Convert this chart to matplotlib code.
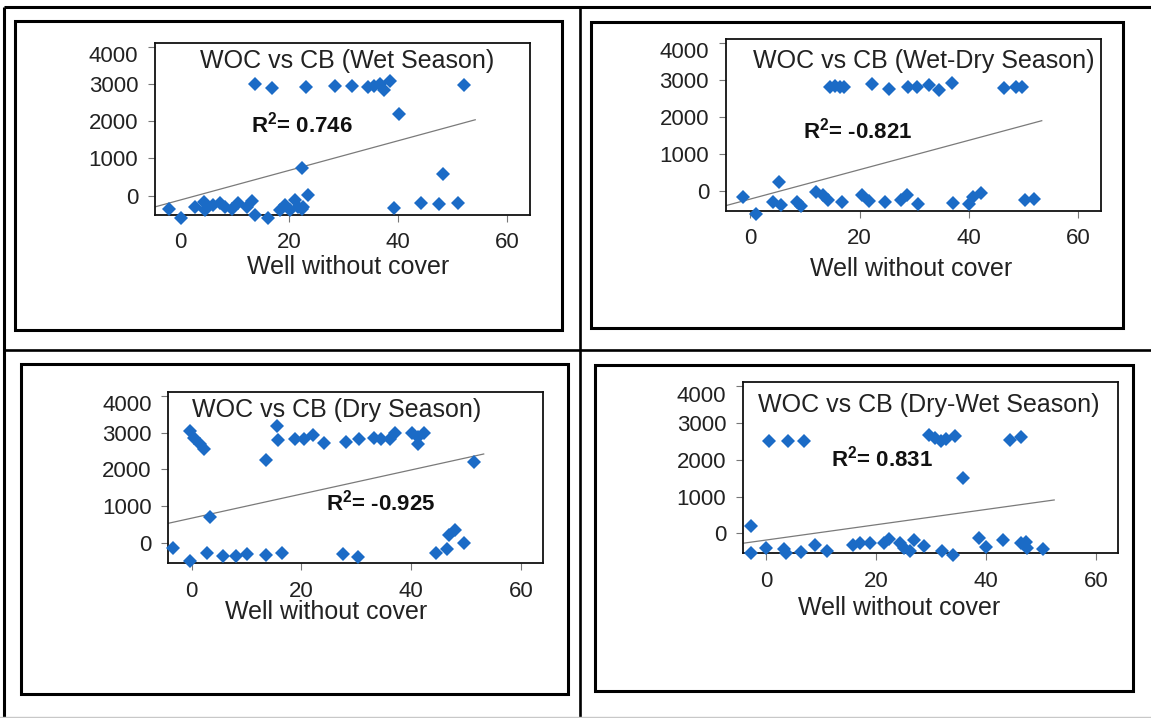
import matplotlib
matplotlib.use("Agg")
import matplotlib.pyplot as plt
from matplotlib import transforms as mtransforms
from matplotlib.patches import Rectangle

plt.rcParams['font.family'] = ['Liberation Sans', 'DejaVu Sans']
plt.rcParams['mathtext.fontset'] = 'custom'
plt.rcParams['mathtext.rm'] = 'Liberation Sans'
plt.rcParams['mathtext.bf'] = 'Liberation Sans:bold'

# -----------------------------
# data
# -----------------------------
wet_x = [13.7, 16.8, 23.1, 28.4, 31.6, 34.5, 35.6, 36.6, 37.4, 38.5, 40.2, 52.1,
         22.3, 48.2,
         -2.0, 0.1, 2.75, 4.3, 4.6, 6.1, 7.3, 8.25, 9.5, 10.7, 12.2, 13.1, 13.7,
         16.2, 18.3, 19.2, 20.2, 21.1, 21.7, 22.6, 23.5, 22.3,
         39.2, 44.1, 47.4, 50.9]
wet_y = [3000, 2880, 2910, 2945, 2945, 2910, 2960, 3010, 2850, 3070, 2185, 2970,
         735, 580,
         -366, -607, -295, -161, -384, -250, -188, -295, -366, -205, -295, -134, -518,
         -607, -384, -250, -384, -116, -295, -295, 19, -370,
         -340, -206, -224, -206]
wet_trend_x = [-4.6, 54.1]
wet_trend_y = [-300, 2040]

wetdry_x = [14.6, 15.5, 16.4, 17.2, 22.3, 25.3, 28.8, 30.5, 32.7, 34.5, 36.9, 46.4, 48.6, 49.6,
            -1.3, 1.0, 4.1, 5.3, 5.6, 8.6, 9.3, 12.1, 13.3, 14.3, 16.8, 20.5, 21.7,
            24.7, 27.5, 28.6, 30.6, 37.1, 40.0, 40.8, 42.1, 50.3, 51.8]
wetdry_y = [2820, 2840, 2820, 2810, 2890, 2750, 2800, 2800, 2865, 2730, 2910, 2795, 2800, 2800,
            -171, -622, -288, 252, -378, -288, -396, -18, -108, -243, -288, -108, -261,
            -288, -243, -108, -351, -315, -351, -153, -45, -243, -216]
wetdry_trend_x = [-4.5, 53.3]
wetdry_trend_y = [-396, 1900]

dry_x = [-0.3, 0.5, 1.5, 2.2, 13.5, 15.6, 15.8, 18.8, 20.5, 22.2, 24.1, 28.1, 30.5,
         33.2, 34.5, 36.1, 37.1, 40.1, 41.2, 41.3, 42.4,
         3.3, 51.5,
         -3.4, -0.3, 2.8, 5.7, 8.0, 10.1, 13.5, 16.4, 27.6, 30.3,
         44.5, 46.6, 46.8, 48.0, 49.7]
dry_y = [3040, 2845, 2690, 2550, 2260, 3180, 2800, 2820, 2820, 2935, 2710, 2755, 2820,
         2845, 2820, 2820, 2980, 2980, 2685, 2870, 2980,
         723, 2213,
         -135, -470, -253, -343, -343, -298, -316, -253, -289, -379,
         -253, -163, 226, 361, 0]
dry_trend_x = [-4.24, 53.2]
dry_trend_y = [542, 2420]

drywet_x = [0.4, 4.0, 6.8, 29.6, 30.7, 31.7, 32.7, 34.3, 44.3, 46.3, 35.8,
            -2.8, -2.8, -0.1, 3.2, 3.5, 6.3, 8.8, 11.1, 15.8, 17.1, 18.8, 21.4,
            22.4, 24.3, 25.1, 26.1, 26.9, 28.7, 32.0, 34.0, 38.7, 40.0, 43.1,
            46.3, 47.3, 47.5, 50.4]
drywet_y = [2525, 2525, 2525, 2680, 2590, 2525, 2560, 2650, 2540, 2630, 1517,
            209, -545, -409, -436, -545, -500, -318, -481, -318, -272, -272, -254,
            -163, -254, -409, -472, -182, -345, -481, -590, -136, -363, -182,
            -254, -227, -409, -436]
drywet_trend_x = [-4.3, 52.4]
drywet_trend_y = [-272, 908]

titles = ["WOC vs CB (Wet Season)", "WOC vs CB (Wet-Dry Season)",
          "WOC vs CB (Dry Season)", "WOC vs CB (Dry-Wet Season)"]
r2_labels = ["0.746", "-0.821", "-0.925", "0.831"]
x_ticks = [0, 20, 40, 60]
y_ticks = [0, 1000, 2000, 3000, 4000]
x_label = "Well without cover"

# -----------------------------
# layout (pixel based, figure is 1151 x 718)
# -----------------------------
W, H = 1151, 718
panels = [
    # axes px box (l, t, r, b), xlim, ylim, title pos, r2 pos, xlabel pos
    dict(box=(155, 42.7, 529.5, 215), xlim=(-4.6, 64.05), ylim=(-518, 4110),
         title=(0.512, 0.851), r2=(0.256, 0.478), xl=(0.517, -0.342),
         data=(wet_x, wet_y, wet_trend_x, wet_trend_y)),
    dict(box=(725.7, 39, 1100.8, 210.7), xlim=(-4.5, 64.1), ylim=(-532, 4108),
         title=(0.528, 0.833), r2=(0.206, 0.422), xl=(0.495, -0.380),
         data=(wetdry_x, wetdry_y, wetdry_trend_x, wetdry_trend_y)),
    dict(box=(168.3, 391.7, 543, 563.3), xlim=(-4.24, 64.0), ylim=(-542, 4108),
         title=(0.449, 0.854), r2=(0.420, 0.307), xl=(0.422, -0.326),
         data=(dry_x, dry_y, dry_trend_x, dry_trend_y)),
    dict(box=(742.8, 381.7, 1117.9, 553.3), xlim=(-4.3, 64.0), ylim=(-545, 4130),
         title=(0.497, 0.825), r2=(0.234, 0.505), xl=(0.4165, -0.360),
         data=(drywet_x, drywet_y, drywet_trend_x, drywet_trend_y)),
]

fig = plt.figure(figsize=(W / 100, H / 100), dpi=100)

# frames drawn in pixel coordinates on a background axes
bg = fig.add_axes([0, 0, 1, 1], zorder=-5)
bg.set_xlim(0, W)
bg.set_ylim(H, 0)
bg.axis('off')
lw_frame = 2.2
bg.plot([4.5, W], [6.5, 6.5], color='black', lw=lw_frame, solid_capstyle='butt')
bg.plot([4.5, 4.5], [6.5, H], color='black', lw=lw_frame, solid_capstyle='butt')
bg.plot([580, 580], [6.5, H], color='black', lw=1.9, solid_capstyle='butt')
bg.plot([4.5, W], [349.5, 349.5], color='black', lw=1.9, solid_capstyle='butt')
bg.plot([0, W], [716.5, 716.5], color='#c8c8c8', lw=1.0)
for (l, t, r, b) in [(15.5, 20.5, 562.5, 330), (591.5, 21.5, 1123.5, 327.5),
                     (21.5, 363.5, 568.5, 693.5), (595.5, 364.5, 1133.5, 690.5)]:
    bg.add_patch(Rectangle((l, t), r - l, b - t, fill=False, ec='black',
                           lw=lw_frame, joinstyle='miter'))

blue = '#1b6bc6'
for p, title, r2 in zip(panels, titles, r2_labels):
    l, t, r, b = p['box']
    ax = fig.add_axes([l / W, 1 - b / H, (r - l) / W, (b - t) / H])
    xs, ys, tx, ty = p['data']
    ax.plot(tx, ty, color='#7a7a7a', lw=0.9, zorder=2)
    ax.plot(xs, ys, linestyle='none', marker='D', markersize=7.4,
            color=blue, markeredgewidth=0, clip_on=False, zorder=3)
    ax.set_xlim(*p['xlim'])
    ax.set_ylim(*p['ylim'])
    ax.set_xticks(x_ticks)
    ax.set_yticks(y_ticks)
    for s in ax.spines.values():
        s.set_linewidth(1.3)
        s.set_color('#111111')
    ax.tick_params(axis='both', direction='out', length=5, width=0.8,
                   color='#777777', labelsize=16, labelcolor='#222222')
    ax.tick_params(axis='x', pad=7.5)
    ax.tick_params(axis='y', pad=7)
    # the top label sits a little lower than its tick in the original
    top = ax.yaxis.get_major_ticks()[-1]
    top.label1.set_transform(top.label1.get_transform() +
                             mtransforms.ScaledTranslation(0, -0.075, fig.dpi_scale_trans))

    ax.text(*p['title'], title, transform=ax.transAxes, ha='center',
            va='baseline', fontsize=18, color='#222222')
    ax.text(*p['r2'], r'$\mathbf{R^2}$= ' + r2, transform=ax.transAxes,
            ha='left', va='baseline', fontsize=16, fontweight='bold', color='#111111')
    ax.text(*p['xl'], x_label, transform=ax.transAxes, ha='center',
            va='baseline', fontsize=18, color='#222222')

fig.savefig('out.png', dpi=100)
